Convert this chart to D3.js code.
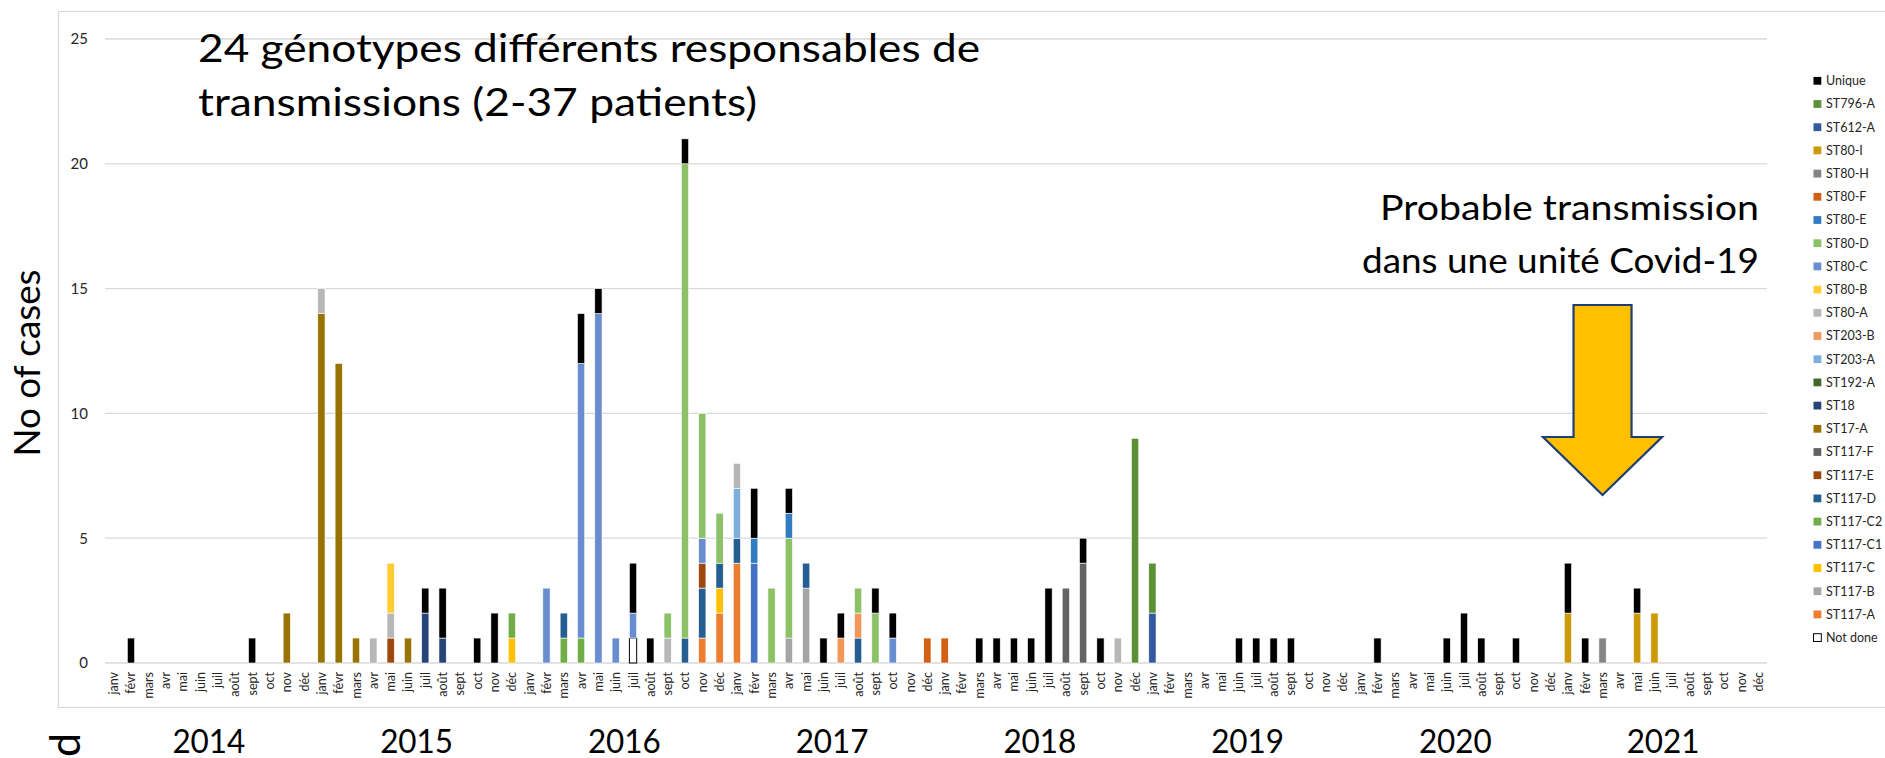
<!DOCTYPE html>
<html>
<head>
<meta charset="utf-8">
<script src="https://cdn.jsdelivr.net/npm/d3@7"></script>
<style>
  html, body { margin: 0; padding: 0; background: #fff; overflow: hidden; }
  svg { display: block; font-family: Lato, "Open Sans", sans-serif; }
</style>
</head>
<body>
<svg id="chart" width="1885" height="758"></svg>
<script>
const MONTHS = ["janv", "févr", "mars", "avr", "mai", "juin", "juil", "août", "sept", "oct", "nov", "déc"];
const YEARS = [2014, 2015, 2016, 2017, 2018, 2019, 2020, 2021];
const Y_TICKS = [0, 5, 10, 15, 20, 25];

// genotypes in stacking order (bottom first), legend shows them reversed
const GENOTYPES = ["Not done", "ST117-A", "ST117-B", "ST117-C", "ST117-C1", "ST117-C2", "ST117-D", "ST117-E",
  "ST117-F", "ST17-A", "ST18", "ST192-A", "ST203-A", "ST203-B", "ST80-A", "ST80-B", "ST80-C", "ST80-D",
  "ST80-E", "ST80-F", "ST80-H", "ST80-I", "ST612-A", "ST796-A", "Unique"];
const GENOTYPE_COLORS = ["#ffffff", "#ed7d31", "#a5a5a5", "#ffc000", "#4472c4", "#70ad47", "#255e91", "#9e480e",
  "#636363", "#997300", "#264478", "#43682b", "#7cafdd", "#f1975a", "#b7b7b7", "#ffcd33", "#698ed0", "#8cc168",
  "#327dc2", "#d26012", "#848484", "#cc9a06", "#335aa1", "#5b9034", "#000000"];

// cases per month: [year-month, count]
const NOT_DONE = [["2016-07", 1]];
const ST117_A = [["2016-11", 1], ["2016-12", 2], ["2017-01", 4]];
const ST117_B = [["2017-04", 1], ["2017-05", 3]];
const ST117_C = [["2015-12", 1], ["2016-12", 1]];
const ST117_C1 = [["2017-02", 4]];
const ST117_C2 = [["2015-12", 1], ["2016-03", 1], ["2016-04", 1]];
const ST117_D = [["2016-03", 1], ["2016-10", 1], ["2016-11", 2], ["2016-12", 1], ["2017-01", 1], ["2017-05", 1], ["2017-08", 1]];
const ST117_E = [["2015-05", 1], ["2016-11", 1]];
const ST117_F = [["2018-08", 3], ["2018-09", 4]];
const ST17_A = [["2014-11", 2], ["2015-01", 14], ["2015-02", 12], ["2015-03", 1], ["2015-06", 1]];
const ST18 = [["2015-07", 2], ["2015-08", 1]];
const ST192_A = [];
const ST203_A = [["2017-01", 2]];
const ST203_B = [["2017-07", 1], ["2017-08", 1]];
const ST80_A = [["2015-01", 1], ["2015-04", 1], ["2015-05", 1], ["2016-09", 1], ["2017-01", 1], ["2018-11", 1]];
const ST80_B = [["2015-05", 2]];
const ST80_C = [["2016-02", 3], ["2016-04", 11], ["2016-05", 14], ["2016-06", 1], ["2016-07", 1], ["2016-11", 1], ["2017-10", 1]];
const ST80_D = [["2016-09", 1], ["2016-10", 19], ["2016-11", 5], ["2016-12", 2], ["2017-03", 3], ["2017-04", 4], ["2017-08", 1], ["2017-09", 2]];
const ST80_E = [["2017-02", 1], ["2017-04", 1]];
const ST80_F = [["2017-12", 1], ["2018-01", 1]];
const ST80_H = [["2021-03", 1]];
const ST80_I = [["2021-01", 2], ["2021-05", 2], ["2021-06", 2]];
const ST612_A = [["2019-01", 2]];
const ST796_A = [["2018-12", 9], ["2019-01", 2]];
const UNIQUE = [["2014-02", 1], ["2014-09", 1], ["2015-07", 1], ["2015-08", 2], ["2015-10", 1], ["2015-11", 2],
  ["2016-04", 2], ["2016-05", 1], ["2016-07", 2], ["2016-08", 1], ["2016-10", 1], ["2017-02", 2], ["2017-04", 1],
  ["2017-06", 1], ["2017-07", 1], ["2017-09", 1], ["2017-10", 1], ["2018-03", 1], ["2018-04", 1], ["2018-05", 1],
  ["2018-06", 1], ["2018-07", 3], ["2018-09", 1], ["2018-10", 1], ["2019-06", 1], ["2019-07", 1], ["2019-08", 1],
  ["2019-09", 1], ["2020-02", 1], ["2020-06", 1], ["2020-07", 2], ["2020-08", 1], ["2020-10", 1], ["2021-01", 2],
  ["2021-02", 1], ["2021-05", 1]];

const SERIES_DATA = [NOT_DONE, ST117_A, ST117_B, ST117_C, ST117_C1, ST117_C2, ST117_D, ST117_E, ST117_F, ST17_A,
  ST18, ST192_A, ST203_A, ST203_B, ST80_A, ST80_B, ST80_C, ST80_D, ST80_E, ST80_F, ST80_H, ST80_I, ST612_A,
  ST796_A, UNIQUE];

// build one row per month
const rows = YEARS.flatMap(yr => MONTHS.map((m, i) => {
  const row = { key: `${yr}-${String(i + 1).padStart(2, "0")}`, month: m };
  GENOTYPES.forEach(g => row[g] = 0);
  return row;
}));
const rowByKey = new Map(rows.map(r => [r.key, r]));
SERIES_DATA.forEach((list, i) => list.forEach(([k, v]) => rowByKey.get(k)[GENOTYPES[i]] += v));

const color = d3.scaleOrdinal(GENOTYPES, GENOTYPE_COLORS);
const stacked = d3.stack().keys(GENOTYPES)(rows);

const svg = d3.select("#chart");

const x = d3.scaleBand()
  .domain(d3.range(rows.length))
  .range([105, 1767])
  .paddingInner(0.58)
  .paddingOuter(0.29);
const y = d3.scaleLinear().domain([0, 25]).range([663, 39]);

// chart frame
svg.append("rect")
  .attr("x", 58.5).attr("y", 11.5)
  .attr("width", 1900).attr("height", 696)
  .attr("fill", "none").attr("stroke", "#d9d9d9").attr("stroke-width", 1.2);

// gridlines + y labels
const yAxis = svg.append("g");
yAxis.selectAll("line").data(Y_TICKS).join("line")
  .attr("x1", 105).attr("x2", 1767)
  .attr("y1", d => y(d)).attr("y2", d => y(d))
  .attr("stroke", "#d9d9d9").attr("stroke-width", 1.3);
yAxis.selectAll("text").data(Y_TICKS).join("text")
  .attr("x", 88).attr("y", d => y(d))
  .attr("dy", "0.36em")
  .attr("text-anchor", "end")
  .attr("font-size", 15)
  .attr("fill", "#262626")
  .text(d => d);

// stacked bars
svg.append("g").selectAll("g")
  .data(stacked).join("g")
  .attr("fill", d => color(d.key))
  .selectAll("rect")
  .data(d => d.map((seg, i) => ({ seg, i, key: d.key })).filter(o => o.seg[1] > o.seg[0]))
  .join("rect")
  .attr("x", d => x(d.i))
  .attr("width", x.bandwidth())
  .attr("y", d => y(d.seg[1]))
  .attr("height", d => y(d.seg[0]) - y(d.seg[1]))
  .attr("stroke", d => d.key === "Not done" ? "#000" : "#fff")
  .attr("stroke-width", d => d.key === "Not done" ? 1 : 0.6);

// month labels
svg.append("g").selectAll("text")
  .data(rows).join("text")
  .attr("transform", (d, i) => `translate(${x(i) + x.bandwidth() / 2 + 4.5},672) rotate(-90)`)
  .attr("text-anchor", "end")
  .attr("font-size", 12.5)
  .attr("fill", "#262626")
  .text(d => d.month);

// year labels
svg.append("g").selectAll("text")
  .data(YEARS).join("text")
  .attr("x", (d, k) => x.range()[0] + (12 * k + 6) * x.step())
  .attr("y", 753)
  .attr("text-anchor", "middle")
  .attr("font-size", 32)
  .attr("fill", "#000")
  .attr("textLength", 73)
  .attr("lengthAdjust", "spacingAndGlyphs")
  .text(d => d);

// y axis title and cut-off label at bottom left
svg.append("text")
  .attr("transform", "translate(40,363) rotate(-90)")
  .attr("text-anchor", "middle")
  .attr("font-size", 36)
  .attr("textLength", 187)
  .attr("lengthAdjust", "spacingAndGlyphs")
  .text("No of cases");
svg.append("text")
  .attr("transform", "translate(80,733) rotate(-90)")
  .attr("text-anchor", "end")
  .attr("font-size", 43)
  .text("d");

// legend
const legend = svg.append("g").attr("font-size", 12.5).attr("fill", "#262626");
const legendItems = legend.selectAll("g")
  .data(GENOTYPES.slice().reverse()).join("g")
  .attr("transform", (d, i) => `translate(1813,${80.7 + i * 23.2})`);
legendItems.append("rect")
  .attr("x", 0.5).attr("y", -3.8)
  .attr("width", 7.8).attr("height", 7.8)
  .attr("fill", d => color(d))
  .attr("stroke", d => d === "Not done" ? "#000" : "none")
  .attr("stroke-width", 1);
legendItems.append("text")
  .attr("x", 13).attr("dy", "0.36em")
  .text(d => d);

// annotations
const notes = svg.append("g").attr("fill", "#000");
notes.append("text").attr("x", 198).attr("y", 62).attr("font-size", 38)
  .attr("textLength", 782).attr("lengthAdjust", "spacingAndGlyphs")
  .text("24 génotypes différents responsables de");
notes.append("text").attr("x", 198).attr("y", 116).attr("font-size", 38)
  .attr("textLength", 559).attr("lengthAdjust", "spacingAndGlyphs")
  .text("transmissions (2-37 patients)");
notes.append("text").attr("x", 1759).attr("y", 220).attr("font-size", 34)
  .attr("text-anchor", "end")
  .attr("textLength", 379).attr("lengthAdjust", "spacingAndGlyphs")
  .text("Probable transmission");
notes.append("text").attr("x", 1759).attr("y", 273).attr("font-size", 34)
  .attr("text-anchor", "end")
  .attr("textLength", 397).attr("lengthAdjust", "spacingAndGlyphs")
  .text("dans une unité Covid-19");

// arrow pointing at mars 2021
const ax = x(86) + x.bandwidth() / 2;
const arrow = [[-29, 305], [29, 305], [29, 437], [59.5, 437], [0, 495], [-59.5, 437], [-29, 437]];
svg.append("polygon")
  .attr("points", arrow.map(([dx, py]) => `${ax + dx},${py}`).join(" "))
  .attr("fill", "#ffc000")
  .attr("stroke", "#1f3e75")
  .attr("stroke-width", 2.2)
  .attr("stroke-linejoin", "miter");
</script>
</body>
</html>
